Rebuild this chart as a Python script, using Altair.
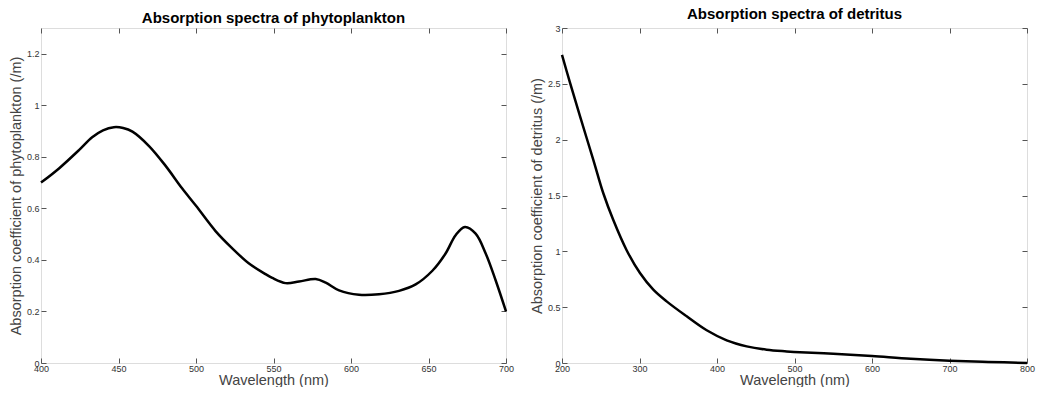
import altair as alt
import pandas as pd

# Phytoplankton absorption spectrum
phyto_wl = [400, 411.6, 424.5, 433, 440, 447, 453, 459, 469.7, 480.4, 491, 500, 512.6, 523.4, 534, 544.8,
            549.2, 557.8, 566.5, 577.2, 583.7, 592.3, 605.2, 618.1, 631, 641.7, 652.5, 661, 667.5,
            673.5, 680.4, 686.9, 693.3, 700]
phyto_a = [0.700, 0.755, 0.826, 0.876, 0.903, 0.915, 0.912, 0.898, 0.842, 0.765, 0.678, 0.61, 0.512,
           0.445, 0.387, 0.345, 0.330, 0.310, 0.316, 0.326, 0.312, 0.282, 0.265, 0.267, 0.280, 0.305,
           0.358, 0.425, 0.496, 0.528, 0.502, 0.425, 0.321, 0.200]

# Detritus absorption spectrum
det_wl = [200, 210.3, 223.2, 240.4, 253.3, 266.2, 283.4, 300.6, 317.8, 335, 360.9, 386.7, 412.5, 438.3,
          464.1, 489.9, 507, 550, 600, 650, 700, 750, 800]
det_a = [2.76, 2.51, 2.21, 1.82, 1.52, 1.28, 1.01, 0.806, 0.657, 0.552, 0.418, 0.293, 0.203, 0.149,
         0.119, 0.104, 0.096, 0.083, 0.062, 0.038, 0.021, 0.010, 0.0]

phyto_xticks = [400, 450, 500, 550, 600, 650, 700]
phyto_yticks = [0, 0.2, 0.4, 0.6, 0.8, 1.0, 1.2]
det_xticks = [200, 300, 400, 500, 600, 700, 800]
det_yticks = [0, 0.5, 1, 1.5, 2, 2.5, 3]

FONT = "Liberation Sans"
W, H = 465, 335
TICK = 5


def panel(wl, a, xdom, ydom, xticks, yticks, title, ytitle):
    df = pd.DataFrame({"wl": wl, "a": a})
    xs = alt.Scale(domain=xdom, nice=False, zero=False)
    ys = alt.Scale(domain=ydom, nice=False, zero=False)
    common_axis = dict(grid=False, domain=False, tickColor="#555", tickSize=TICK,
                       offset=-TICK, labelFont=FONT, labelFontSize=9, labelColor="#333",
                       titleFont=FONT, titleFontSize=14.5, titleFontWeight="normal",
                       titleColor="#444", labelExpr="toString(datum.value)", labelFlush=False)
    main = alt.Chart(df).mark_line(color="black", strokeWidth=2.5, interpolate="catmull-rom").encode(
        x=alt.X("wl:Q", scale=xs, title="Wavelength (nm)",
                axis=alt.Axis(orient="bottom", values=xticks, labelPadding=1, titlePadding=0,
                              **common_axis)),
        y=alt.Y("a:Q", scale=ys, title=ytitle,
                axis=alt.Axis(orient="left", values=yticks, labelPadding=2, titlePadding=3,
                              **common_axis)),
    )
    mirror = alt.Chart(df).mark_line(opacity=0).encode(
        x=alt.X("wl:Q", scale=xs, title=None,
                axis=alt.Axis(orient="top", values=xticks, labels=False, grid=False, domain=False,
                              tickColor="#555", tickSize=TICK, offset=-TICK)),
        y=alt.Y("a:Q", scale=ys, title=None,
                axis=alt.Axis(orient="right", values=yticks, labels=False, grid=False, domain=False,
                              tickColor="#555", tickSize=TICK, offset=-TICK)),
    )
    return alt.layer(main, mirror).resolve_axis(x="independent", y="independent").properties(
        width=W, height=H,
        title=alt.TitleParams(title, font=FONT, fontSize=15, fontWeight="bold", color="black",
                              anchor="middle", offset=2),
    )


left = panel(phyto_wl, phyto_a, [400, 700], [0, 1.3], phyto_xticks, phyto_yticks,
             "Absorption spectra of phytoplankton", "Absorption coefficient of phytoplankton (/m)")
right = panel(det_wl, det_a, [200, 800], [0, 3], det_xticks, det_yticks,
              "Absorption spectra of detritus", "Absorption coefficient of detritus (/m)")

chart = alt.hconcat(left, right, spacing=13).properties(
    padding={"left": 7, "top": 6, "right": 1, "bottom": 0},
).configure_view(stroke="#555", strokeWidth=1.2).configure(background="white")

chart.save("out.html", embed_options={"renderer": "svg", "actions": False})
